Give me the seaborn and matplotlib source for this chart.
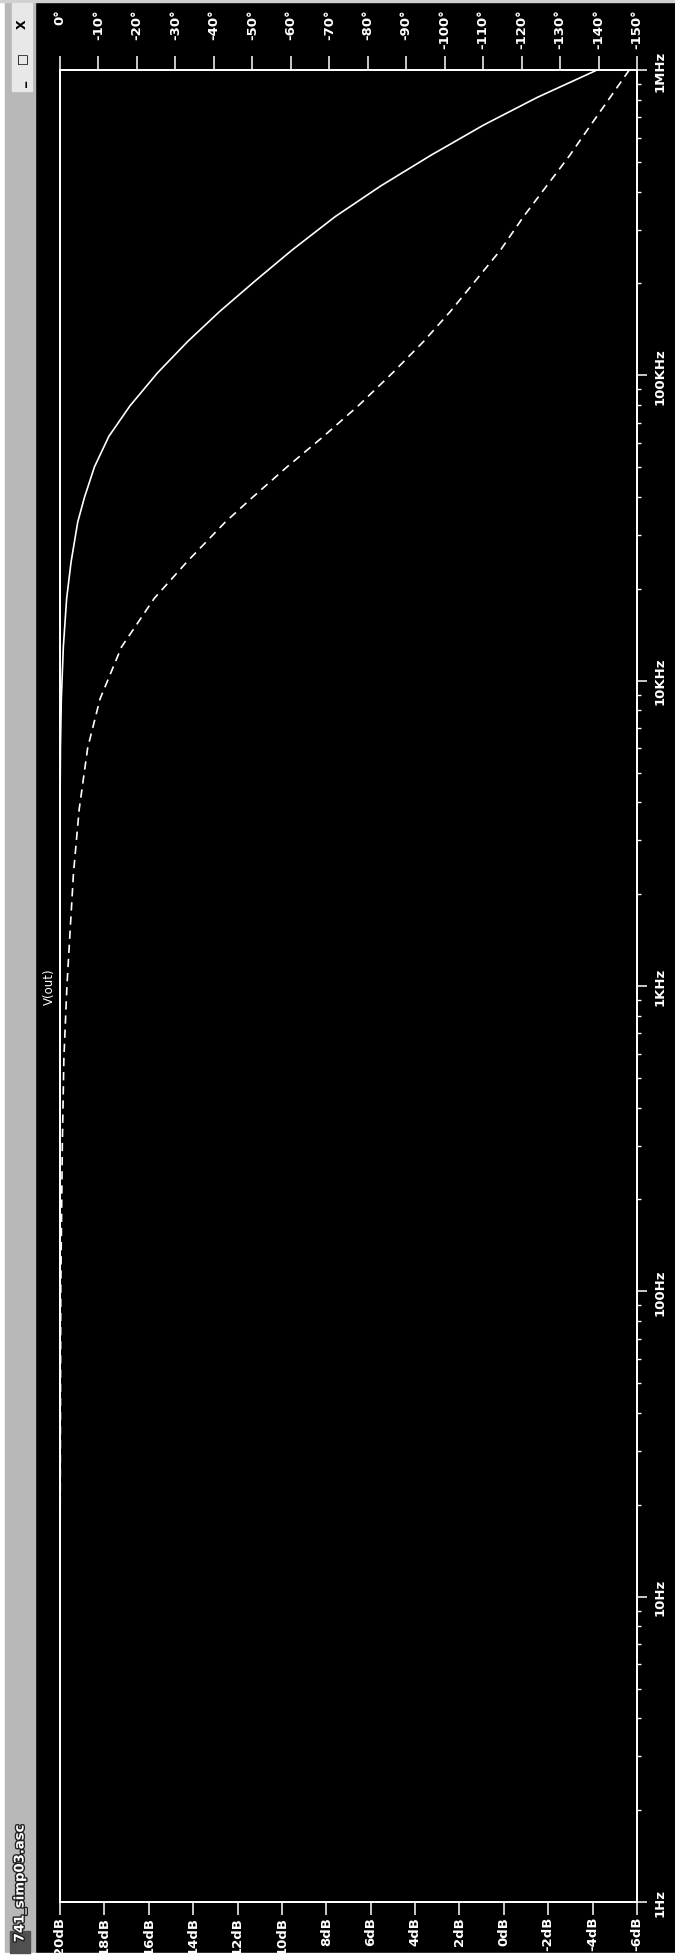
import matplotlib
matplotlib.use("Agg")
import matplotlib.pyplot as plt
import matplotlib.patheffects as pe
from matplotlib.patches import Rectangle
from matplotlib.transforms import blended_transform_factory
from matplotlib.ticker import LogLocator, NullFormatter
import seaborn as sns

# frequency points (Hz)
freq_hz = [1, 10, 100, 300, 575, 1000, 2340, 3800, 6030, 8710, 12900, 18600,
           24500, 33100, 39800, 50100, 63100, 79400, 102000, 129000, 162000,
           204000, 257000, 331000, 417000, 525000, 661000, 813000, 1000000]
# V(out) magnitude, solid trace (dB)
mag_db = [20, 20, 20, 20, 20, 20, 20, 20, 19.98, 19.94, 19.85, 19.7,
          19.5, 19.2, 18.9, 18.45, 17.8, 16.85, 15.6, 14.25, 12.8,
          11.2, 9.55, 7.6, 5.55, 3.3, 0.9, -1.5, -4.2]
# V(out) phase, dashed trace (degrees)
phase_deg = [0, 0, -0.2, -0.6, -1.0, -1.8, -3.5, -5, -7.2, -10.4, -16, -24.5,
             -33, -43, -50, -59, -68.5, -77.5, -86.5, -94.5, -101.5,
             -108, -114.5, -120.5, -126.5, -132.5, -138, -143, -148]

db_ticks = list(range(20, -7, -2))
phase_ticks = list(range(0, -151, -10))
freq_ticks = [1, 10, 100, 1e3, 1e4, 1e5, 1e6]
freq_labels = ["1Hz", "10Hz", "100Hz", "1KHz", "10KHz", "100KHz", "1MHz"]

W, H = 675, 1958
FS = 9.5
fig = plt.figure(figsize=(W / 100, H / 100), dpi=100, facecolor="black")

# window frame / title bar (rotated screenshot)
fig.patches.append(Rectangle((0, 0), 5 / W, 1, transform=fig.transFigure, color="white"))
fig.patches.append(Rectangle((5 / W, 0), 30 / W, 1, transform=fig.transFigure, color="#b8b8b8"))
fig.patches.append(Rectangle((0, 1 - 3 / H), 1, 3 / H, transform=fig.transFigure, color="#d0d0d0"))
fig.patches.append(Rectangle((0, 0), 1, 4 / H, transform=fig.transFigure, color="white"))
fig.patches.append(Rectangle((12 / W, 1 - 92 / H), 20 / W, 88 / H, transform=fig.transFigure,
                             color="#e8e8e8"))
fig.text(22 / W, 1 - 24 / H, "X", rotation=90, ha="center", va="center", color="black",
         fontsize=9, fontweight="bold")
fig.text(22 / W, 1 - 58 / H, "□", rotation=90, ha="center", va="center", color="black",
         fontsize=9)
fig.text(22 / W, 1 - 84 / H, "_", rotation=90, ha="center", va="center", color="black",
         fontsize=9, fontweight="bold")
fig.text(20 / W, 1 - 1825 / H, "741_simp03.asc", rotation=90, ha="center", va="top",
         color="white", fontsize=9.5, fontweight="bold",
         path_effects=[pe.withStroke(linewidth=2, foreground="#202020")])
fig.patches.append(Rectangle((10 / W, 4 / H), 20 / W, 22 / H, transform=fig.transFigure,
                             color="#505050"))

ax = fig.add_axes([60 / W, 1 - 1903 / H, 577 / W, 1832 / H])
ax.set_facecolor("black")

sns.lineplot(x=mag_db, y=freq_hz, ax=ax, sort=False, estimator=None,
             color="white", linewidth=1.2)
ax.set_yscale("log")
ax.set_xlim(20, -6)
ax.set_ylim(1, 1e6)
ax.set_xlabel("")
ax.set_ylabel("")

for s in ax.spines.values():
    s.set_color("white")
    s.set_linewidth(1.3)

ax.set_xticks(db_ticks)
ax.set_xticklabels([f"{v}dB" for v in db_ticks], rotation=90, color="white",
                   fontsize=FS, fontweight="bold")
ax.tick_params(axis="x", bottom=True, direction="out", length=9, width=1.1,
               color="white", pad=1)

ax.yaxis.tick_right()
ax.set_yticks(freq_ticks)
ax.set_yticklabels(freq_labels, rotation=90, va="center", color="white",
                   fontsize=FS, fontweight="bold")
ax.yaxis.set_minor_locator(LogLocator(base=10, subs=range(2, 10)))
ax.yaxis.set_minor_formatter(NullFormatter())
ax.tick_params(axis="y", which="major", right=True, left=False, direction="out",
               length=7, width=1.1, color="white", pad=5)
ax.tick_params(axis="y", which="minor", right=True, left=False, direction="out",
               length=3, width=1, color="white")

# phase axis along the top
ax2 = ax.twiny()
sns.lineplot(x=phase_deg, y=freq_hz, ax=ax2, sort=False, estimator=None,
             color="white", linewidth=1.2)
ax2.lines[-1].set_linestyle((0, (5, 3.5)))
ax2.set_xlim(0, -150)
ax2.set_ylim(1, 1e6)
ax2.set_xlabel("")
ax2.set_xticks(phase_ticks)
ax2.set_xticklabels([])
ax2.tick_params(axis="x", top=True, bottom=False, direction="out", length=10,
                width=1.1, color="white")
for s in ax2.spines.values():
    s.set_color("white")
    s.set_linewidth(1.3)

tr = blended_transform_factory(ax2.transData, fig.transFigure)
for v in phase_ticks:
    ax2.text(v, 1 - 9 / H, f"{v}°", transform=tr, rotation=90, ha="center",
             va="top", color="white", fontsize=FS, fontweight="bold")

fig.text(49 / W, 1 - 987 / H, "V(out)", rotation=90, ha="center", va="center",
         color="white", fontsize=8.5)

fig.savefig("out.png", dpi=100, facecolor="black")
